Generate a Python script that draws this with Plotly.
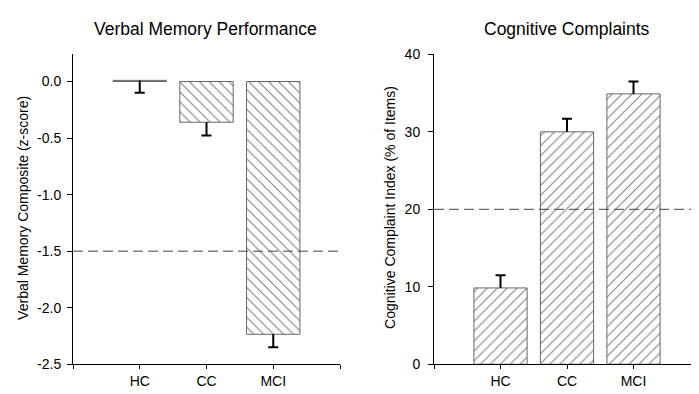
import plotly.graph_objects as go

groups = ["HC", "CC", "MCI"]
memory_means = [0.01, -0.36, -2.235]
memory_err = [0.11, 0.117, 0.115]
complaint_means = [9.85, 30.0, 34.9]
complaint_err = [1.65, 1.7, 1.6]
memory_cutoff = -1.5
complaint_cutoff = 20
memory_ticks = [0.0, -0.5, -1.0, -1.5, -2.0, -2.5]
memory_tick_labels = ["0.0", "-0.5", "-1.0", "-1.5", "-2.0", "-2.5"]
complaint_ticks = [0, 10, 20, 30, 40]

xpos = [1, 2, 3]
cap_half = 0.075
font = "Liberation Sans, Arial, sans-serif"


def one_sided_errors(means, errs, direction):
    xs, ys = [], []
    for x, m, e in zip(xpos, means, errs):
        end = m + direction * e
        xs += [x, x, None, x - cap_half, x + cap_half, None]
        ys += [m, end, None, end, end, None]
    return xs, ys


fig = go.Figure()

bar_marker = lambda shape: dict(color="white", line=dict(color="#666", width=1),
                                pattern=dict(shape=shape, fgcolor="#000", bgcolor="white",
                                             size=7, solidity=0.15))

fig.add_trace(go.Bar(x=xpos, y=memory_means, width=0.8, xaxis="x", yaxis="y",
                     marker=bar_marker("\\"), showlegend=False))
ex, ey = one_sided_errors(memory_means, memory_err, -1)
fig.add_trace(go.Scatter(x=ex, y=ey, mode="lines", xaxis="x", yaxis="y",
                         line=dict(color="black", width=2), showlegend=False, hoverinfo="skip"))

fig.add_trace(go.Bar(x=xpos, y=complaint_means, width=0.8, xaxis="x2", yaxis="y2",
                     marker=bar_marker("/"), showlegend=False))
ex, ey = one_sided_errors(complaint_means, complaint_err, 1)
fig.add_trace(go.Scatter(x=ex, y=ey, mode="lines", xaxis="x2", yaxis="y2",
                         line=dict(color="black", width=2), showlegend=False, hoverinfo="skip"))

fig.add_shape(type="line", xref="x", yref="y", x0=0, x1=4, y0=memory_cutoff, y1=memory_cutoff,
              line=dict(color="#444", width=1, dash="10px,5px"))
fig.add_shape(type="line", xref="x2", yref="y2", x0=0, x1=4, y0=complaint_cutoff, y1=complaint_cutoff,
              line=dict(color="#444", width=1, dash="10px,5px"))

axis_common = dict(showgrid=False, zeroline=False, showline=True, linecolor="black", linewidth=1,
                   ticks="outside", tickcolor="black", tickwidth=1,
                   tickfont=dict(family=font, size=14, color="black"))

W, H = 699, 394
fig.update_layout(
    width=W, height=H, margin=dict(l=0, r=0, t=0, b=0),
    paper_bgcolor="white", plot_bgcolor="white",
    font=dict(family=font, color="black"),
    xaxis=dict(domain=[65 / W, 332 / W], range=[0, 4], tickvals=[0, 1, 2, 3, 4],
               ticktext=["", "HC", "CC", "MCI", ""], ticklen=4, anchor="y", **axis_common),
    yaxis=dict(domain=[31 / H, 354 / H], range=[-2.5, 0.24], tickvals=memory_ticks,
               ticktext=memory_tick_labels, ticklen=5, ticklabelstandoff=3, anchor="x", **axis_common),
    xaxis2=dict(domain=[426 / W, 692 / W], range=[0, 4], tickvals=[0, 1, 2, 3, 4],
                ticktext=["", "HC", "CC", "MCI", ""], ticklen=4, anchor="y2", **axis_common),
    yaxis2=dict(domain=[31 / H, 354 / H], range=[0, 40], tickvals=complaint_ticks, ticklen=5,
                ticklabelstandoff=5, anchor="x2", **axis_common),
    annotations=[
        dict(text="Verbal Memory Performance", xref="paper", yref="paper", x=197 / W, y=1 - 14 / H,
             showarrow=False, xanchor="center", yanchor="middle", font=dict(size=17.5, family=font)),
        dict(text="Cognitive Complaints", xref="paper", yref="paper", x=559 / W, y=1 - 14 / H,
             showarrow=False, xanchor="center", yanchor="middle", font=dict(size=17.5, family=font)),
        dict(text="Verbal Memory Composite (z-score)", xref="paper", yref="paper", x=15 / W, y=1 - 200 / H,
             textangle=-90, showarrow=False, xanchor="center", yanchor="middle",
             font=dict(size=14, family=font)),
        dict(text="Cognitive Complaint Index (% of Items)", xref="paper", yref="paper", x=382 / W,
             y=1 - 200 / H, textangle=-90, showarrow=False, xanchor="center", yanchor="middle",
             font=dict(size=14, family=font)),
    ],
)

fig.write_html("out.html")
